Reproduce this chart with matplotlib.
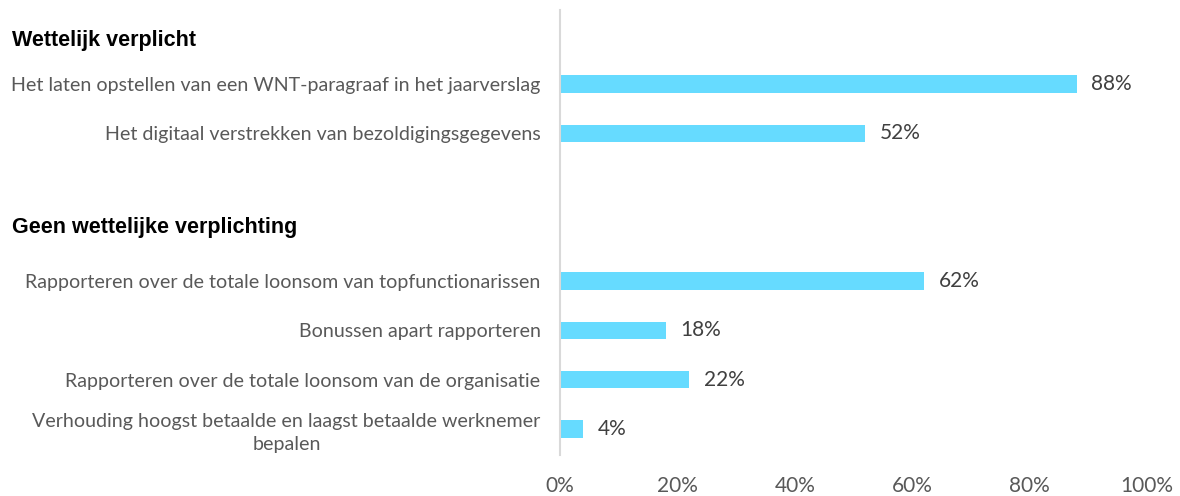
import numpy as np
import matplotlib
matplotlib.use('Agg')
import matplotlib.pyplot as plt
import matplotlib.transforms as mtransforms

# data
labels = [
    'Het laten opstellen van een WNT-paragraaf in het jaarverslag',
    'Het digitaal verstrekken van bezoldigingsgegevens',
    'Rapporteren over de totale loonsom van topfunctionarissen',
    'Bonussen apart rapporteren',
    'Rapporteren over de totale loonsom van de organisatie',
    'Verhouding hoogst betaalde en laagst betaalde werknemer\nbepalen',
]
values = [88, 52, 62, 18, 22, 4]
posities = [0, 1, 4, 5, 6, 7]
koppen = ['Wettelijk verplicht', 'Geen wettelijke verplichting']
kop_posities = [-0.89, 2.92]
xticks = [0, 20, 40, 60, 80, 100]

plt.rcParams['font.family'] = ['Lato', 'DejaVu Sans']

fig = plt.figure(figsize=(11.8, 4.96), dpi=100)
ax = fig.add_axes([560 / 1180, 1 - 455 / 496, 587 / 1180, 445 / 496])

ax.barh(posities, values, height=0.35, color='#66DBFF')
for p, v in zip(posities, values):
    ax.text(v + 2.5, p, f'{v}%', va='center', ha='left', fontsize=15, color='#404040')

ax.set_xlim(0, 100)
ax.set_ylim(7.53, -1.5)
ax.set_xticks(xticks)
ax.set_xticklabels([f'{t}%' for t in xticks], fontsize=15, color='#595959')
ax.set_yticks(posities)
ax.set_yticklabels(labels, fontsize=14.1, color='#595959',
                   multialignment='center', linespacing=1.4)
ax.tick_params(axis='both', length=0)
ax.tick_params(axis='y', pad=14)
ax.tick_params(axis='x', pad=15)

for s in ['top', 'right', 'bottom']:
    ax.spines[s].set_visible(False)
ax.spines['left'].set_color('#D9D9D9')
ax.spines['left'].set_linewidth(1.5)

trans = mtransforms.blended_transform_factory(fig.transFigure, ax.transData)
for k, p in zip(koppen, kop_posities):
    ax.text(12 / 1180, p, k, transform=trans, ha='left', va='center',
            fontsize=15.5, color='black', family='Liberation Sans', weight='bold')

fig.savefig('out.png', dpi=100)
